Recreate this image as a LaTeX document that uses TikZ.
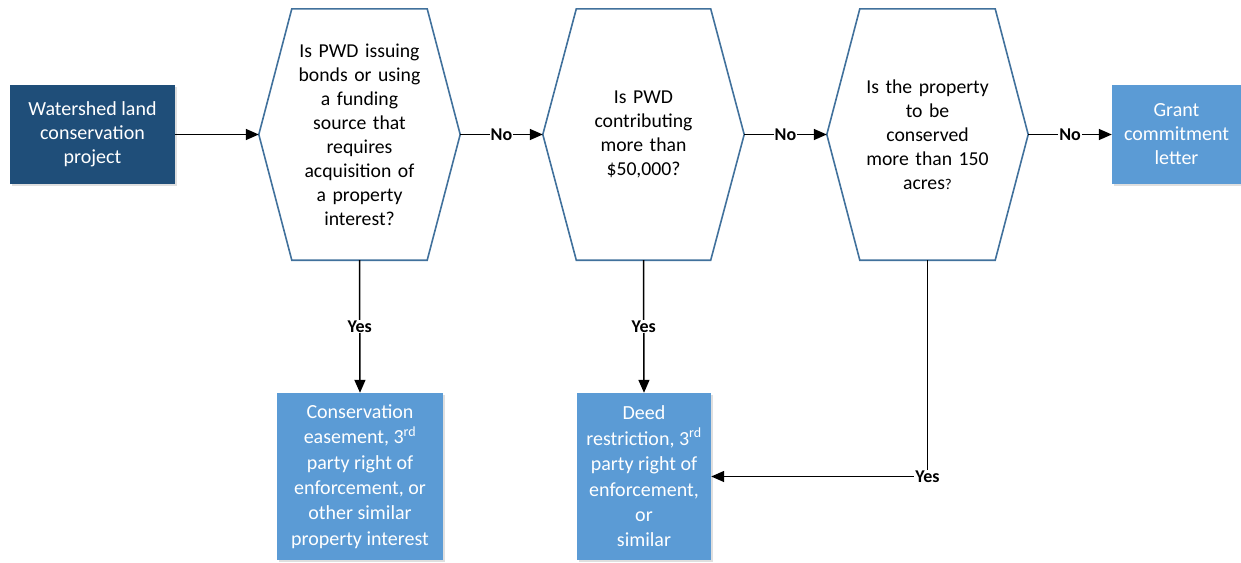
\documentclass[tikz,border=0pt]{standalone}
\usepackage{fontspec}
\setmainfont{Carlito}
\usetikzlibrary{arrows.meta,shadows}
\definecolor{darkbox}{HTML}{1F4E79}
\definecolor{lightbox}{HTML}{5B9BD5}
\definecolor{hexline}{HTML}{41719C}
\tikzset{
  boxtext/.style={font=\fontsize{20}{24}\selectfont, align=center, text=white, inner sep=0pt},
  darkrect/.style={boxtext, fill=darkbox, drop shadow={opacity=0.25, shadow xshift=2pt, shadow yshift=-2pt}},
  lightrect/.style={boxtext, fill=lightbox, drop shadow={opacity=0.25, shadow xshift=2pt, shadow yshift=-2pt}},
  hexframe/.style={minimum width=201pt, minimum height=251pt, inner sep=0pt},
  hextext/.style={font=\fontsize{19.7}{24}\selectfont, align=center, text width=175pt, inner sep=0pt},
  hexline/.style={draw=hexline, line width=1.6pt, fill=white, line join=miter},
  conn/.style={line width=1.5pt, -{Triangle[length=13pt,width=11pt]}},
  lab/.style={font=\fontsize{18}{20}\selectfont\bfseries, fill=white, inner sep=1pt},
}
\newcommand{\hexpath}[2]{%
  \draw[hexline] ([xshift=#2]#1.north west) -- ([xshift=-#2]#1.north east) -- (#1.east)
    -- ([xshift=-#2]#1.south east) -- ([xshift=#2]#1.south west) -- (#1.west) -- cycle;}
\begin{document}
\begin{tikzpicture}[x=1pt,y=-1pt]
\useasboundingbox (0,0) rectangle (1241,562);
% start
\node[darkrect, minimum width=165pt, minimum height=99pt] (start) at (92.5,134.5)
  {Watershed land\\conservation\\project};
% hexagon frames
\node[hexframe] (h1) at (359.5,134.5) {};
\node[hexframe] (h2) at (643.5,134.5) {};
\node[hexframe] (h3) at (927.5,134.5) {};
\hexpath{h1}{33pt}
\hexpath{h2}{33.5pt}
\hexpath{h3}{33pt}
\node[hextext] (t1) at (h1.center) {Is PWD issuing\\bonds or using\\a funding\\source that\\requires\\acquisition of\\a property\\interest?};
\node[hextext] (t2) at (h2.center) {Is PWD\\contributing\\more than\\\$50,000?};
\node[hextext] (t3) at (h3.center) {Is the property\\to be\\conserved\\more than 150\\acres{\fontsize{15}{24}\selectfont ?}};
% grant
\node[lightrect, minimum width=129pt, minimum height=99pt] (grant) at (1176.5,134.5)
  {Grant\\commitment\\letter};
% bottom boxes
\node[lightrect, minimum width=166pt, minimum height=167pt, font=\fontsize{20}{25.4}\selectfont] (A) at (360,476.5)
  {Conservation\\easement, 3\textsuperscript{rd}\\party right of\\enforcement, or\\other similar\\property interest};
\node[lightrect, minimum width=134pt, minimum height=167pt, font=\fontsize{20}{25.4}\selectfont] (B) at (644,476.5)
  {Deed\\restriction, 3\textsuperscript{rd}\\party right of\\enforcement,\\or\\similar};
% connectors
\draw[conn] (start.east) -- (h1.west);
\draw[conn] (h1.east) -- node[lab]{No} (h2.west);
\draw[conn] (h2.east) -- node[lab]{No} (h3.west);
\draw[conn] (h3.east) -- node[lab]{No} (grant.west);
\draw[conn] (h1.south) -- node[lab]{Yes} (A.north);
\draw[conn] (h2.south) -- node[lab]{Yes} (B.north);
\draw[conn] (h3.south) |- node[lab, pos=0.5]{Yes} (B.east);
\end{tikzpicture}
\end{document}
